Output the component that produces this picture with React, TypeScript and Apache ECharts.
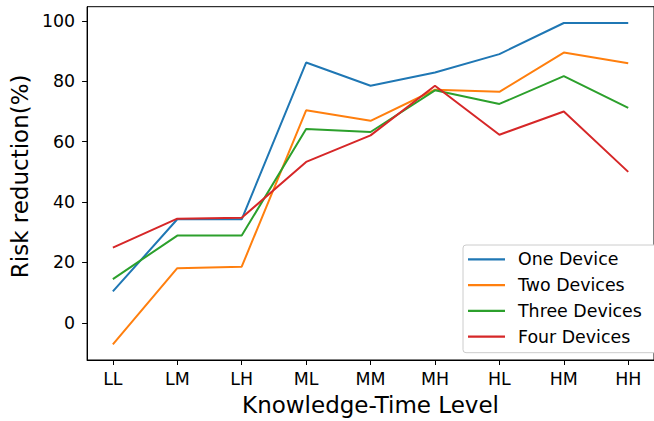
import React, { useEffect, useRef } from "react";
import * as echarts from "echarts";

const categories = ["LL", "LM", "LH", "ML", "MM", "MH", "HL", "HM", "HH"];
const oneDevice = [10.4, 34.3, 34.3, 86.2, 78.5, 82.9, 89.0, 99.3, 99.3];
const twoDevices = [-7.1, 18.1, 18.6, 70.4, 66.9, 77.2, 76.5, 89.5, 86.0];
const threeDevices = [14.5, 28.9, 28.9, 64.2, 63.2, 77.0, 72.5, 81.7, 71.2];
const fourDevices = [24.9, 34.5, 34.8, 53.3, 62.1, 78.5, 62.3, 70.0, 50.0];
const yTicks = [0, 20, 40, 60, 80, 100];
const seriesNames = ["One Device", "Two Devices", "Three Devices", "Four Devices"];
const colors = ["#1f77b4", "#ff7f0e", "#2ca02c", "#d62728"];

const FONT = "DejaVu Sans";

export default function App() {
  const ref = useRef<HTMLDivElement>(null);
  useEffect(() => {
    if (!ref.current) return;
    const chart = echarts.init(ref.current, null, { renderer: "svg" });
    const allSeries = [oneDevice, twoDevices, threeDevices, fourDevices];
    const xIdx = categories.map((_, i) => i);
    chart.setOption({
      animation: false,
      backgroundColor: "#ffffff",
      textStyle: { fontFamily: FONT },
      grid: {
        left: 85,
        top: 6.7,
        right: -6,
        bottom: 59.3,
        show: true,
        borderColor: "#000",
        borderWidth: 1,
        containLabel: false,
      },
      legend: {
        orient: "vertical",
        left: 463,
        top: 245,
        data: seriesNames,
        icon: "rect",
        itemWidth: 37,
        itemHeight: 2.2,
        itemGap: 8.8,
        padding: [5.8, 16, 7.5, 5],
        backgroundColor: "#fff",
        borderColor: "#cccccc",
        borderWidth: 1,
        borderRadius: 3,
        textStyle: {
          fontFamily: FONT,
          fontSize: 17.4,
          color: "#000",
          padding: [0, 0, 0, 8],
          lineHeight: 17,
        },
      },
      xAxis: {
        type: "value",
        min: -0.4,
        max: 8.4,
        name: "Knowledge-Time Level",
        nameLocation: "middle",
        nameGap: 33,
        nameTextStyle: { fontFamily: FONT, fontSize: 23, color: "#000" },
        axisLine: { show: true, onZero: false, lineStyle: { color: "#000", width: 1 } },
        axisTick: { show: true, length: 5, customValues: xIdx, lineStyle: { color: "#000", width: 1 } },
        axisLabel: {
          customValues: xIdx,
          margin: 10,
          fontFamily: FONT,
          fontSize: 17.4,
          color: "#000",
          formatter: (v: number) => categories[Math.round(v)] ?? "",
        },
        splitLine: { show: false },
      },
      yAxis: {
        type: "value",
        min: -12.3,
        max: 104.7,
        name: "Risk reduction(%)",
        nameLocation: "middle",
        nameGap: 52,
        nameTextStyle: { fontFamily: FONT, fontSize: 23, color: "#000", padding: [0, 0, 0, 14] },
        axisLine: { show: true, onZero: false, lineStyle: { color: "#000", width: 1 } },
        axisTick: { show: true, length: 5, customValues: yTicks, lineStyle: { color: "#000", width: 1 } },
        axisLabel: {
          customValues: yTicks,
          margin: 12,
          fontFamily: FONT,
          fontSize: 17.4,
          color: "#000",
        },
        splitLine: { show: false },
      },
      series: allSeries.map((vals, s) => ({
        name: seriesNames[s],
        type: "line",
        data: vals.map((v, i) => [i, v]),
        symbol: "none",
        showSymbol: false,
        lineStyle: { color: colors[s], width: 2 },
        itemStyle: { color: colors[s] },
        z: 2 + s,
      })),
    });
    return () => chart.dispose();
  }, []);
  return (
    <div
      ref={ref}
      style={{ position: "fixed", left: 0, top: 0, width: 654, height: 421 }}
    />
  );
}
